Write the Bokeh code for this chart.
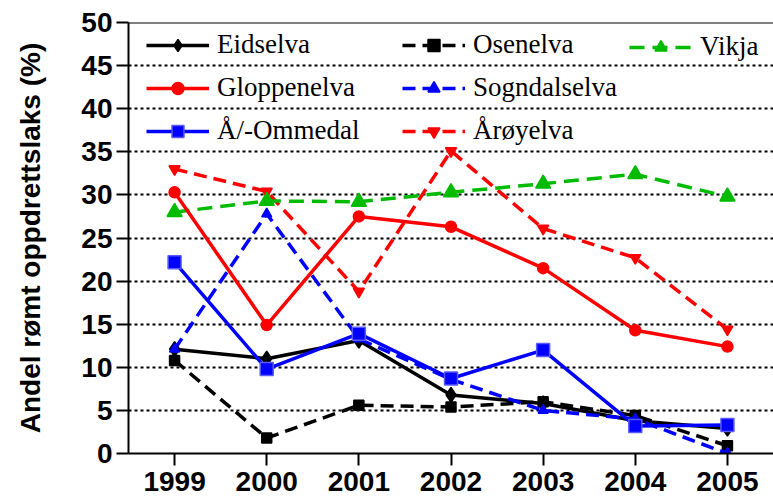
from bokeh.plotting import figure
from bokeh.models import Legend, LegendItem, FixedTicker, Span
from bokeh.embed import file_html
from bokeh.resources import INLINE

years = [1999, 2000, 2001, 2002, 2003, 2004, 2005]
eidselva = [12.1, 11.0, 13.1, 6.8, 5.8, 3.8, 2.9]
osenelva = [10.8, 1.8, 5.6, 5.4, 6.0, 4.4, 0.9]
vikja = [28.0, 29.3, 29.2, 30.3, 31.3, 32.4, 29.8]
gloppenelva = [30.3, 14.9, 27.5, 26.3, 21.5, 14.3, 12.4]
sogndalselva = [12.1, 27.8, 13.3, 8.6, 5.0, 4.0, 0.0]
ommedal = [22.2, 9.8, 13.9, 8.7, 12.0, 3.2, 3.3]
aroyelva = [33.0, 30.4, 18.8, 35.1, 26.1, 22.7, 14.4]
y_ticks = [0, 5, 10, 15, 20, 25, 30, 35, 40, 45, 50]

RED = "#ff0000"
BLUE = "#0000ff"
GREEN = "#00bb00"
BLACK = "#000000"

p = figure(width=773, height=500, x_range=(1998.5, 2005.5), y_range=(0, 50),
           output_backend="svg", toolbar_location=None,
           min_border_left=128, min_border_right=0, min_border_top=22, min_border_bottom=47)
p.outline_line_color = None
p.xgrid.grid_line_color = None
p.ygrid.grid_line_color = BLACK
p.ygrid.grid_line_dash = "3 3"
p.ygrid.grid_line_width = 2

p.xaxis.ticker = FixedTicker(ticks=years)
p.yaxis.ticker = FixedTicker(ticks=y_ticks)
for ax in (p.xaxis[0], p.yaxis[0]):
    ax.axis_line_width = 2
    ax.major_tick_line_width = 2
    ax.major_tick_out = 12
    ax.major_tick_in = 0
    ax.minor_tick_line_color = None
    ax.major_label_text_font = "Liberation Sans"
    ax.major_label_text_font_style = "bold"
    ax.major_label_text_font_size = "28px"
    ax.major_label_text_color = BLACK
p.xaxis.major_label_standoff = 6
p.yaxis.major_label_standoff = 4
p.yaxis.axis_label = "Andel rømt oppdrettslaks (%)"
p.yaxis.axis_label_text_font = "Liberation Sans"
p.yaxis.axis_label_text_font_style = "bold"
p.yaxis.axis_label_text_font_size = "28px"
p.yaxis.axis_label_text_color = BLACK
p.yaxis.axis_label_standoff = 32

p.add_layout(Span(location=50, dimension="width", line_color=BLACK, line_width=2))

def series(y, color, dash, marker, size, edge=None):
    lr = p.line(years, y, line_color=color, line_width=3.5, line_dash=dash)
    sr = p.scatter(years, y, marker=marker, size=size, line_color=edge if edge else color,
                   fill_color=color, line_width=1.5)
    return [lr, sr]

r_aroy = series(aroyelva, RED, "13 7", "inverted_triangle", 11)
r_vikja = series(vikja, GREEN, "15 8", "triangle", 15)
r_glop = series(gloppenelva, RED, "solid", "circle", 11)
r_osen = series(osenelva, BLACK, "13 7", "square", 10)
r_eids = series(eidselva, BLACK, "solid", "diamond", 15)
r_sogn = series(sogndalselva, BLUE, "13 7", "triangle", 10)
r_omme = series(ommedal, BLUE, "solid", "square", 13, edge="#5a5aff")

def make_legend(items, loc):
    lg = Legend(items=[LegendItem(label=l, renderers=r) for l, r in items], location=loc)
    lg.border_line_color = None
    lg.background_fill_alpha = 0
    lg.padding = 0
    lg.margin = 0
    lg.spacing = 12
    lg.glyph_width = 63
    lg.glyph_height = 30
    lg.label_height = 30
    lg.label_standoff = 8
    lg.label_text_font = "'Liberation Serif', 'Times New Roman', serif"
    lg.label_text_font_size = "27px"
    lg.label_text_color = BLACK
    p.add_layout(lg)

make_legend([("Eidselva", r_eids), ("Gloppenelva", r_glop), ("Å/-Ommedal", r_omme)], (18, 307))
make_legend([("Osenelva", r_osen), ("Sogndalselva", r_sogn), ("Årøyelva", r_aroy)], (274, 307))
make_legend([("Vikja", r_vikja)], (501, 391))

open("out.html", "w").write(file_html(p, INLINE))
